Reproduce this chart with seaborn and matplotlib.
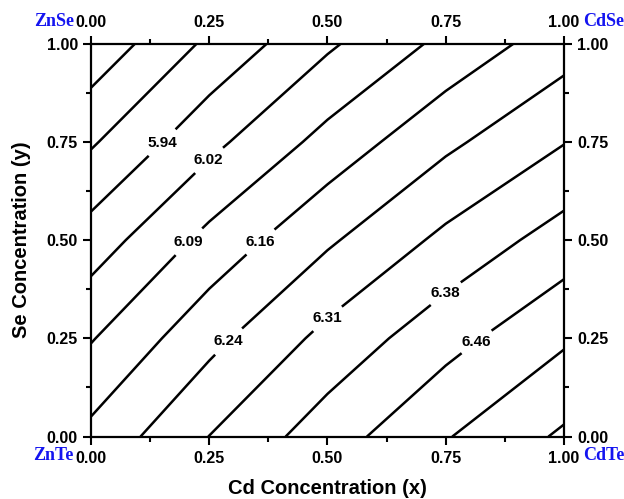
import numpy as np
import pandas as pd
import matplotlib
matplotlib.use("Agg")
import matplotlib.pyplot as plt
import seaborn as sns
from matplotlib.ticker import MultipleLocator

# ---- data (grid of lattice constants) ----
cd_x = [0.00, 0.25, 0.50, 0.75, 1.00]
se_y = [0.00, 0.25, 0.50, 0.75, 1.00]
lat_y000 = [6.183, 6.312, 6.425, 6.527, 6.618]
lat_y025 = [6.085, 6.215, 6.333, 6.433, 6.521]
lat_y050 = [5.976, 6.112, 6.226, 6.329, 6.418]
lat_y075 = [5.859, 5.995, 6.115, 6.221, 6.308]
lat_y100 = [5.741, 5.883, 6.004, 6.109, 6.203]

plain_levels = [5.794, 5.868, 6.532, 6.606]
label_levels = [5.942, 6.016, 6.090, 6.163, 6.237, 6.311, 6.385, 6.459]
label_texts = ["5.94", "6.02", "6.09", "6.16", "6.24", "6.31", "6.38", "6.46"]

tick_vals = [0.00, 0.25, 0.50, 0.75, 1.00]
tick_labels = ["0.00", "0.25", "0.50", "0.75", "1.00"]
corner_names = ["ZnSe", "CdSe", "ZnTe", "CdTe"]

# ---- layout (label anchor points, in data units) ----
label_spots = [(0.149, 0.750), (0.248, 0.705), (0.206, 0.497), (0.357, 0.497),
               (0.290, 0.243), (0.500, 0.300), (0.748, 0.367), (0.814, 0.243)]

sns.set_theme(style="ticks")
plt.rcParams["font.family"] = ["Liberation Sans", "DejaVu Sans"]
plt.rcParams["font.weight"] = "bold"
plt.rcParams["axes.labelweight"] = "bold"
for k in ["text.color", "axes.labelcolor", "xtick.color", "ytick.color", "axes.edgecolor"]:
    plt.rcParams[k] = "black"

rows = [lat_y000, lat_y025, lat_y050, lat_y075, lat_y100]
df = pd.DataFrame([(x, y, v) for y, r in zip(se_y, rows) for x, v in zip(cd_x, r)],
                  columns=["x", "y", "a"])
grid = df.pivot(index="y", columns="x", values="a")
X, Y = np.meshgrid(grid.columns.values, grid.index.values)
Z = grid.values

fig = plt.figure(figsize=(6.24, 4.99), dpi=100)
ax = fig.add_axes([0.1458, 0.125, 0.758, 0.7876])

ax.contour(X, Y, Z, levels=plain_levels, colors="black", linewidths=1.8)
cs = ax.contour(X, Y, Z, levels=label_levels, colors="black", linewidths=1.8)
fmt = {lv: t for lv, t in zip(label_levels, label_texts)}
texts = ax.clabel(cs, fmt=fmt, inline=True, inline_spacing=4,
                  fontsize=11, manual=label_spots, colors="black")
for t in texts:
    t.set_rotation(0)

ax.set_xlim(0, 1)
ax.set_ylim(0, 1)
ax.set_xticks(tick_vals, tick_labels)
ax.set_yticks(tick_vals, tick_labels)
ax.xaxis.set_minor_locator(MultipleLocator(0.125))
ax.yaxis.set_minor_locator(MultipleLocator(0.125))
ax.tick_params(which="both", direction="out", top=True, right=True,
               labeltop=True, labelright=True, colors="black", width=1.5)
ax.tick_params(which="major", length=6, labelsize=11.5)
ax.tick_params(which="minor", length=3.5)
ax.tick_params(axis="x", which="major", pad=4)
ax.tick_params(axis="y", which="major", pad=3.5)
for s in ax.spines.values():
    s.set_linewidth(1.6)
    s.set_color("black")

ax.set_xlabel("Cd Concentration (x)", fontsize=14.5, labelpad=10)
ax.set_ylabel("Se Concentration (y)", fontsize=14.5, labelpad=11)

serif = ["Liberation Serif", "DejaVu Serif"]
kw = dict(transform=ax.transAxes, color="#1414f0", fontsize=13, fontweight="bold",
          family=serif, va="center")
ax.text(-0.036, 1.056, corner_names[0], ha="right", **kw)
ax.text(1.040, 1.056, corner_names[1], ha="left", **kw)
ax.text(-0.036, -0.049, corner_names[2], ha="right", **kw)
ax.text(1.040, -0.049, corner_names[3], ha="left", **kw)

fig.savefig("out.png", dpi=100)
